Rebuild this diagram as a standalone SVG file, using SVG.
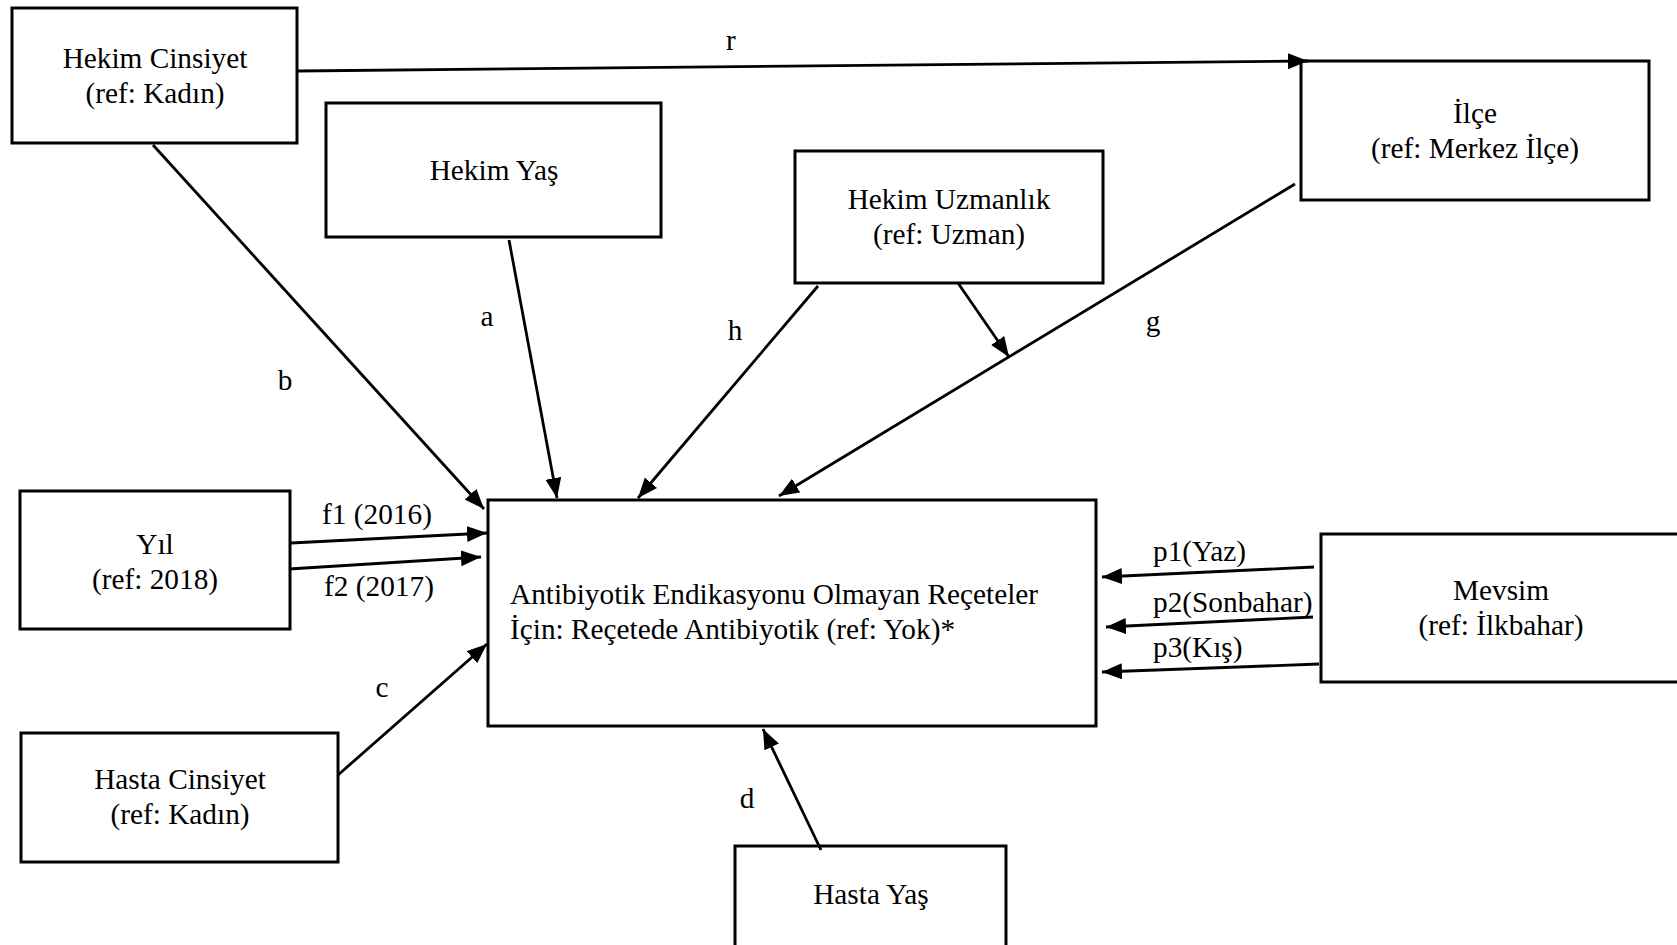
<svg xmlns="http://www.w3.org/2000/svg" width="1677" height="945" viewBox="0 0 1677 945">
<style>
.box{fill:#fff;stroke:#000;stroke-width:3}
.t{font-family:"Liberation Serif","Times New Roman",serif;font-size:29.3px;fill:#000}
.c{text-anchor:middle}
.ln{stroke:#000;stroke-width:2.8;fill:none;marker-end:url(#ah)}
</style>
<defs>
<marker id="ah" markerUnits="userSpaceOnUse" markerWidth="22" markerHeight="18" refX="20" refY="8" orient="auto">
<path d="M0,0 L20,8 L0,16 Z" fill="#000"/>
</marker>
</defs>
<rect width="1677" height="945" fill="#fff"/>
<g id="hekim-cinsiyet"><rect class="box" x="12" y="8" width="285" height="135"/><text class="t c" x="155" y="68">Hekim Cinsiyet</text><text class="t c" x="155" y="103">(ref: Kadın)</text></g>
<g id="hekim-yas"><rect class="box" x="326" y="103" width="335" height="134"/><text class="t c" x="494" y="180">Hekim Yaş</text></g>
<g id="hekim-uzmanlik"><rect class="box" x="795" y="151" width="308" height="132"/><text class="t c" x="949" y="209">Hekim Uzmanlık</text><text class="t c" x="949" y="244">(ref: Uzman)</text></g>
<g id="ilce"><rect class="box" x="1301" y="61" width="348" height="139"/><text class="t c" x="1475" y="123">İlçe</text><text class="t c" x="1475" y="158">(ref: Merkez İlçe)</text></g>
<g id="yil"><rect class="box" x="20" y="491" width="270" height="138"/><text class="t c" x="155" y="554">Yıl</text><text class="t c" x="155" y="589">(ref: 2018)</text></g>
<g id="antibiyotik"><rect class="box" x="488" y="500" width="608" height="226"/><text class="t" x="510" y="604">Antibiyotik Endikasyonu Olmayan Reçeteler</text><text class="t" x="510" y="639">İçin: Reçetede Antibiyotik (ref: Yok)*</text></g>
<g id="mevsim"><rect class="box" x="1321" y="534" width="370" height="148"/><text class="t c" x="1501" y="600">Mevsim</text><text class="t c" x="1501" y="635">(ref: İlkbahar)</text></g>
<g id="hasta-cinsiyet"><rect class="box" x="21" y="733" width="317" height="129"/><text class="t c" x="180" y="789">Hasta Cinsiyet</text><text class="t c" x="180" y="824">(ref: Kadın)</text></g>
<g id="hasta-yas"><rect class="box" x="735" y="846" width="271" height="110"/><text class="t c" x="871" y="904">Hasta Yaş</text></g>
<g id="connectors">
<line class="ln" x1="298" y1="71" x2="1308" y2="61"/>
<line class="ln" x1="153" y1="145" x2="484" y2="509"/>
<line class="ln" x1="509" y1="240" x2="557" y2="498"/>
<line class="ln" x1="818" y1="286" x2="638" y2="498"/>
<line class="ln" x1="958" y1="283" x2="1009" y2="357"/>
<line class="ln" x1="1295" y1="184" x2="779" y2="496"/>
<line class="ln" x1="291" y1="543" x2="487" y2="533"/>
<line class="ln" x1="289" y1="569" x2="481" y2="557"/>
<line class="ln" x1="338" y1="775" x2="487" y2="644"/>
<line class="ln" x1="821" y1="850" x2="763" y2="729"/>
<line class="ln" x1="1314" y1="567" x2="1102" y2="577"/>
<line class="ln" x1="1313" y1="617" x2="1106" y2="627"/>
<line class="ln" x1="1319" y1="664" x2="1102" y2="672"/>
</g>
<g id="labels">
<text class="t c" x="731" y="50">r</text>
<text class="t c" x="285" y="390">b</text>
<text class="t c" x="487" y="326">a</text>
<text class="t c" x="735" y="340">h</text>
<text class="t c" x="1153" y="331">g</text>
<text class="t c" x="377" y="524">f1 (2016)</text>
<text class="t c" x="379" y="596">f2 (2017)</text>
<text class="t c" x="382" y="697">c</text>
<text class="t c" x="747" y="808">d</text>
<text class="t" x="1153" y="561">p1(Yaz)</text>
<text class="t" x="1153" y="612">p2(Sonbahar)</text>
<text class="t" x="1153" y="657">p3(Kış)</text>
</g>
</svg>
